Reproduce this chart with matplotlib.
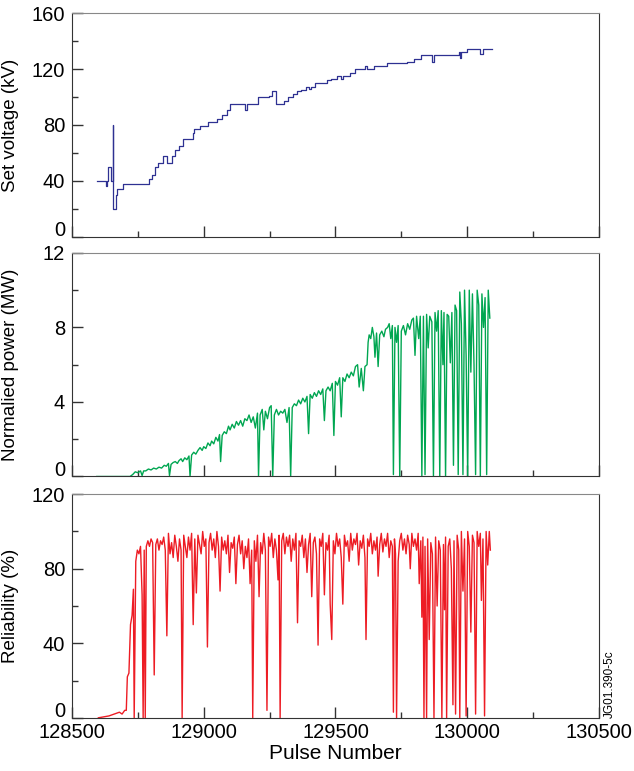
import matplotlib
matplotlib.use("Agg")
import matplotlib.pyplot as plt
from matplotlib.ticker import MultipleLocator, FuncFormatter

plt.rcParams['font.family'] = ['Liberation Sans', 'DejaVu Sans']

# set voltage (kV), stepwise
volt_pulse = [128596, 128629, 128632, 128637, 128648, 128654, 128655, 128666, 128672, 128694,
              128793, 128802, 128815, 128828, 128847, 128862, 128874, 128881, 128891, 128907,
              128923, 128958, 128964, 128986, 129015, 129049, 129070, 129087, 129100, 129138,
              129155, 129166, 129207, 129249, 129258, 129274, 129305, 129321, 129340, 129353,
              129368, 129388, 129400, 129408, 129422, 129467, 129485, 129505, 129520, 129530,
              129555, 129574, 129614, 129620, 129646, 129697, 129773, 129798, 129823, 129868,
              129873, 129890, 129968, 129972, 129978, 129991, 129998, 130050, 130060, 130074,
              130093]
volt_kv = [40, 36, 40, 50, 40, 80, 20, 30, 34, 38,
           41, 44, 50, 53, 58, 53, 53, 58, 62, 65,
           70, 74, 77, 79, 82, 84, 87, 91, 95, 95,
           91, 95, 100, 101, 104, 95, 97, 100, 102, 104,
           105, 107, 106, 107, 110, 112, 113, 115, 113, 115,
           117, 120, 122, 120, 122, 124, 125, 127, 130, 125,
           130, 130, 132, 128, 132, 132, 134, 131, 134, 134,
           134]

# normalised power (MW)
pow_pulse = [128594, 128720, 128730, 128740, 128750, 128760, 128766, 128772, 128780, 128790,
             128800, 128810, 128820, 128830, 128840, 128850, 128858, 128866, 128870, 128876,
             128884, 128892, 128900, 128906, 128914, 128920, 128928, 128936, 128944, 128948,
             128954, 128962, 128970, 128978, 128986, 128994, 129000, 129008, 129016, 129024,
             129030, 129038, 129046, 129054, 129060, 129064, 129070, 129078, 129086, 129094,
             129100, 129108, 129116, 129124, 129132, 129140, 129148, 129156, 129164, 129172,
             129180, 129188, 129196, 129204, 129208, 129214, 129222, 129228, 129234, 129242,
             129250, 129256, 129262, 129268, 129276, 129284, 129292, 129300, 129308, 129316,
             129324, 129330, 129336, 129344, 129352, 129360, 129368, 129376, 129384, 129392,
             129398, 129404, 129412, 129420, 129428, 129436, 129444, 129452, 129458, 129464,
             129472, 129480, 129488, 129494, 129500, 129508, 129516, 129522, 129528, 129536,
             129544, 129552, 129560, 129568, 129576, 129584, 129590, 129598, 129606, 129612,
             129620, 129624, 129628, 129634, 129640, 129646, 129650, 129656, 129662, 129668,
             129676, 129684, 129690, 129698, 129704, 129710, 129716, 129720, 129726, 129732,
             129738, 129744, 129750, 129758, 129766, 129774, 129782, 129790, 129796, 129802,
             129808, 129816, 129822, 129828, 129834, 129840, 129846, 129852, 129858, 129866,
             129872, 129878, 129884, 129890, 129896, 129902, 129908, 129912, 129918, 129924,
             129930, 129936, 129942, 129948, 129954, 129960, 129966, 129972, 129978, 129984,
             129990, 129996, 130002, 130008, 130014, 130020, 130026, 130032, 130038, 130044,
             130050, 130056, 130062, 130068, 130074, 130080, 130086]
pow_mw = [0, 0, 0.1, 0.25, 0.2, 0.3, 0.05, 0.3, 0.3, 0.4,
          0.35, 0.45, 0.4, 0.5, 0.45, 0.6, 0.55, 0.7, 0.05, 0.65,
          0.75, 0.8, 0.7, 0.85, 0.95, 0.8, 1.0, 0.9, 1.1, 0.0,
          1.15, 1.3, 1.2, 1.4, 1.55, 1.4, 1.6, 1.5, 1.8, 1.65,
          1.9, 1.75, 2.1, 1.9, 2.25, 0.8, 2.2, 2.4, 2.3, 2.7,
          2.5, 2.8, 2.6, 2.95, 2.75, 3.0, 2.7, 3.1, 3.0, 3.3,
          2.9, 3.2, 2.6, 3.4, 0.0, 3.3, 3.6, 2.5, 3.5, 3.1,
          3.7, 3.8, 0.0, 3.3, 3.6, 3.3, 3.5, 3.4, 3.6, 2.9,
          3.7, 0.0, 3.7, 3.9, 3.8, 4.1, 3.9, 4.2, 4.0, 4.3,
          2.3, 4.4, 4.2, 4.5, 4.3, 4.6, 4.4, 4.7, 3.0, 4.6,
          4.8, 4.6, 5.0, 2.2, 5.1, 4.9, 5.3, 3.2, 5.3, 5.1,
          5.5, 5.3, 5.6, 5.4, 5.9, 6.0, 4.8, 5.8, 4.6, 5.9,
          6.0, 7.2, 7.6, 7.4, 8.0, 7.5, 6.4, 7.7, 5.9, 7.6,
          7.8, 7.5, 7.9, 8.0, 8.2, 7.4, 8.1, 0.1, 8.0, 7.2,
          8.1, 0.0, 7.8, 8.1, 7.6, 8.2, 7.9, 8.4, 8.5, 6.5,
          8.6, 7.4, 8.6, 0.0, 8.6, 0.1, 8.7, 6.9, 8.6, 8.3,
          0.0, 8.8, 7.8, 8.9, 0.0, 8.9, 6.0, 8.8, 0.0, 8.7,
          8.6, 6.1, 8.8, 0.6, 9.2, 8.9, 0.1, 9.9, 8.2, 0.1,
          10.0, 6.5, 0.0, 10.0, 5.6, 9.8, 6.0, 0.1, 10.0, 9.2,
          0.0, 9.8, 8.0, 9.6, 0.1, 10.0, 8.5]

# reliability (%)
rel_pulse = [128600, 128640, 128660, 128680, 128690, 128700, 128706, 128710, 128716, 128722,
             128728, 128733, 128736, 128742, 128748, 128754, 128760, 128766, 128770, 128774,
             128778, 128782, 128788, 128794, 128800, 128806, 128812, 128818, 128824, 128830,
             128836, 128842, 128848, 128854, 128860, 128866, 128872, 128878, 128884, 128890,
             128896, 128902, 128908, 128914, 128918, 128924, 128930, 128936, 128942, 128948,
             128954, 128960, 128966, 128972, 128978, 128984, 128990, 128996, 129002, 129008,
             129014, 129020, 129026, 129032, 129038, 129044, 129050, 129056, 129062, 129068,
             129074, 129080, 129086, 129092, 129098, 129104, 129110, 129116, 129122, 129128,
             129134, 129140, 129146, 129152, 129158, 129164, 129170, 129176, 129182, 129186,
             129192, 129198, 129204, 129210, 129216, 129222, 129228, 129234, 129240, 129246,
             129252, 129258, 129264, 129270, 129276, 129282, 129286, 129290, 129296, 129302,
             129308, 129314, 129320, 129326, 129332, 129338, 129344, 129350, 129356, 129362,
             129368, 129374, 129380, 129386, 129392, 129398, 129404, 129410, 129416, 129422,
             129428, 129434, 129440, 129446, 129452, 129458, 129464, 129470, 129476, 129480,
             129486, 129492, 129498, 129504, 129510, 129516, 129522, 129528, 129534, 129540,
             129546, 129552, 129558, 129564, 129570, 129576, 129582, 129588, 129594, 129600,
             129606, 129612, 129616, 129622, 129628, 129634, 129640, 129646, 129652, 129658,
             129662, 129668, 129674, 129680, 129686, 129692, 129698, 129704, 129710, 129716,
             129720, 129724, 129728, 129732, 129738, 129744, 129750, 129756, 129762, 129768,
             129774, 129780, 129784, 129790, 129796, 129802, 129808, 129814, 129818, 129824,
             129828, 129832, 129836, 129840, 129846, 129850, 129856, 129862, 129868, 129874,
             129880, 129886, 129892, 129898, 129904, 129910, 129914, 129918, 129922, 129928,
             129934, 129940, 129946, 129950, 129956, 129962, 129968, 129972, 129978, 129984,
             129990, 129996, 130002, 130008, 130014, 130020, 130026, 130032, 130038, 130044,
             130050, 130054, 130060, 130066, 130072, 130078, 130084, 130088]
rel_pct = [0, 1, 2, 3, 2, 4, 4, 22, 24, 50,
           55, 69, 0, 84, 90, 88, 92, 66, 0, 90,
           0, 92, 95, 92, 96, 94, 23, 93, 96, 90,
           95, 93, 97, 90, 44, 99, 88, 94, 86, 98,
           92, 84, 96, 90, 0, 98, 92, 86, 97, 90,
           99, 50, 96, 67, 98, 93, 88, 100, 92, 96,
           38, 94, 99, 90, 96, 86, 100, 92, 68, 97,
           90, 95, 88, 98, 78, 94, 91, 97, 72, 93,
           98, 88, 95, 80, 92, 86, 96, 72, 90, 0,
           95, 84, 98, 65, 94, 88, 99, 90, 4, 97,
           92, 99, 86, 96, 90, 74, 98, 0, 95, 99,
           88, 97, 92, 98, 84, 96, 90, 99, 51, 95,
           92, 98, 86, 96, 78, 93, 99, 65, 94, 97,
           88, 39, 96, 92, 99, 66, 94, 90, 98, 61,
           42, 95, 88, 99, 92, 96, 86, 61, 98, 92,
           95, 84, 99, 90, 96, 93, 99, 82, 95, 91,
           98, 86, 42, 96, 92, 99, 88, 95, 90, 97,
           76, 93, 99, 89, 96, 92, 99, 86, 95, 92,
           3, 96, 88, 0, 84, 95, 99, 90, 96, 88,
           98, 93, 80, 99, 92, 96, 90, 99, 72, 95,
           54, 97, 0, 92, 0, 96, 42, 94, 88, 0,
           97, 60, 95, 90, 0, 93, 58, 97, 0, 92,
           96, 80, 7, 95, 2, 98, 90, 0, 100, 68,
           96, 1, 100, 92, 46, 98, 94, 2, 100, 92,
           99, 63, 96, 1, 100, 82, 100, 90]

fig = plt.figure(figsize=(6.34, 7.71), dpi=100)
left, width = 0.1136, 0.831
ax1 = fig.add_axes([left, 0.693, width, 0.290])
ax2 = fig.add_axes([left, 0.382, width, 0.290])
ax3 = fig.add_axes([left, 0.069, width, 0.290])

ax1.plot(volt_pulse, volt_kv, color='#2e3192', lw=0.9, drawstyle='steps-post')
ax2.plot(pow_pulse, pow_mw, color='#00a651', lw=1.0)
ax3.plot(rel_pulse, rel_pct, color='#ed1c24', lw=1.0)

ax1.set_ylim(0, 160)
ax1.yaxis.set_major_locator(MultipleLocator(40))
ax1.yaxis.set_minor_locator(MultipleLocator(20))
ax1.set_ylabel('Set voltage (kV)', fontsize=13.5)

ax2.set_ylim(0, 12)
ax2.yaxis.set_major_locator(MultipleLocator(4))
ax2.yaxis.set_minor_locator(MultipleLocator(2))
ax2.set_ylabel('Normalied power (MW)', fontsize=13.5)

ax3.set_ylim(0, 120)
ax3.yaxis.set_major_locator(MultipleLocator(40))
ax3.yaxis.set_minor_locator(MultipleLocator(20))
ax3.set_ylabel('Reliability (%)', fontsize=13.5)
ax3.set_xlabel('Pulse Number', fontsize=15, labelpad=2)

# the "0" label is drawn separately so it can sit on top of the spine
no_zero = FuncFormatter(lambda v, pos: '' if v == 0 else '%g' % v)

for ax in (ax1, ax2, ax3):
    ax.set_xlim(128500, 130500)
    ax.xaxis.set_major_locator(MultipleLocator(500))
    ax.xaxis.set_minor_locator(MultipleLocator(250))
    ax.yaxis.set_major_formatter(no_zero)
    ax.tick_params(which='both', direction='in', top=False, right=False,
                   labelsize=14.5, color='#333333')
    ax.tick_params(which='major', length=8, width=1)
    ax.tick_params(which='minor', length=4, width=1)
    ax.tick_params(axis='y', pad=5)
    ax.yaxis.set_label_coords(-0.10, 0.5)
    for side in ('left', 'bottom', 'right'):
        ax.spines[side].set_color('#333333')
    ax.spines['top'].set_color('#888888')
    if ax is not ax3:
        ax.tick_params(labelbottom=False)
    ax.annotate('0', xy=(0, 0), xycoords=('axes fraction', 'data'),
                xytext=(-5, -2.5), textcoords='offset points',
                ha='right', va='bottom', fontsize=14.5)

ax3.ticklabel_format(axis='x', useOffset=False, style='plain')

fig.text(0.962, 0.069, 'JG01.390-5c', rotation=90, fontsize=8.5,
         ha='center', va='bottom')

fig.savefig('out.png', dpi=100)
